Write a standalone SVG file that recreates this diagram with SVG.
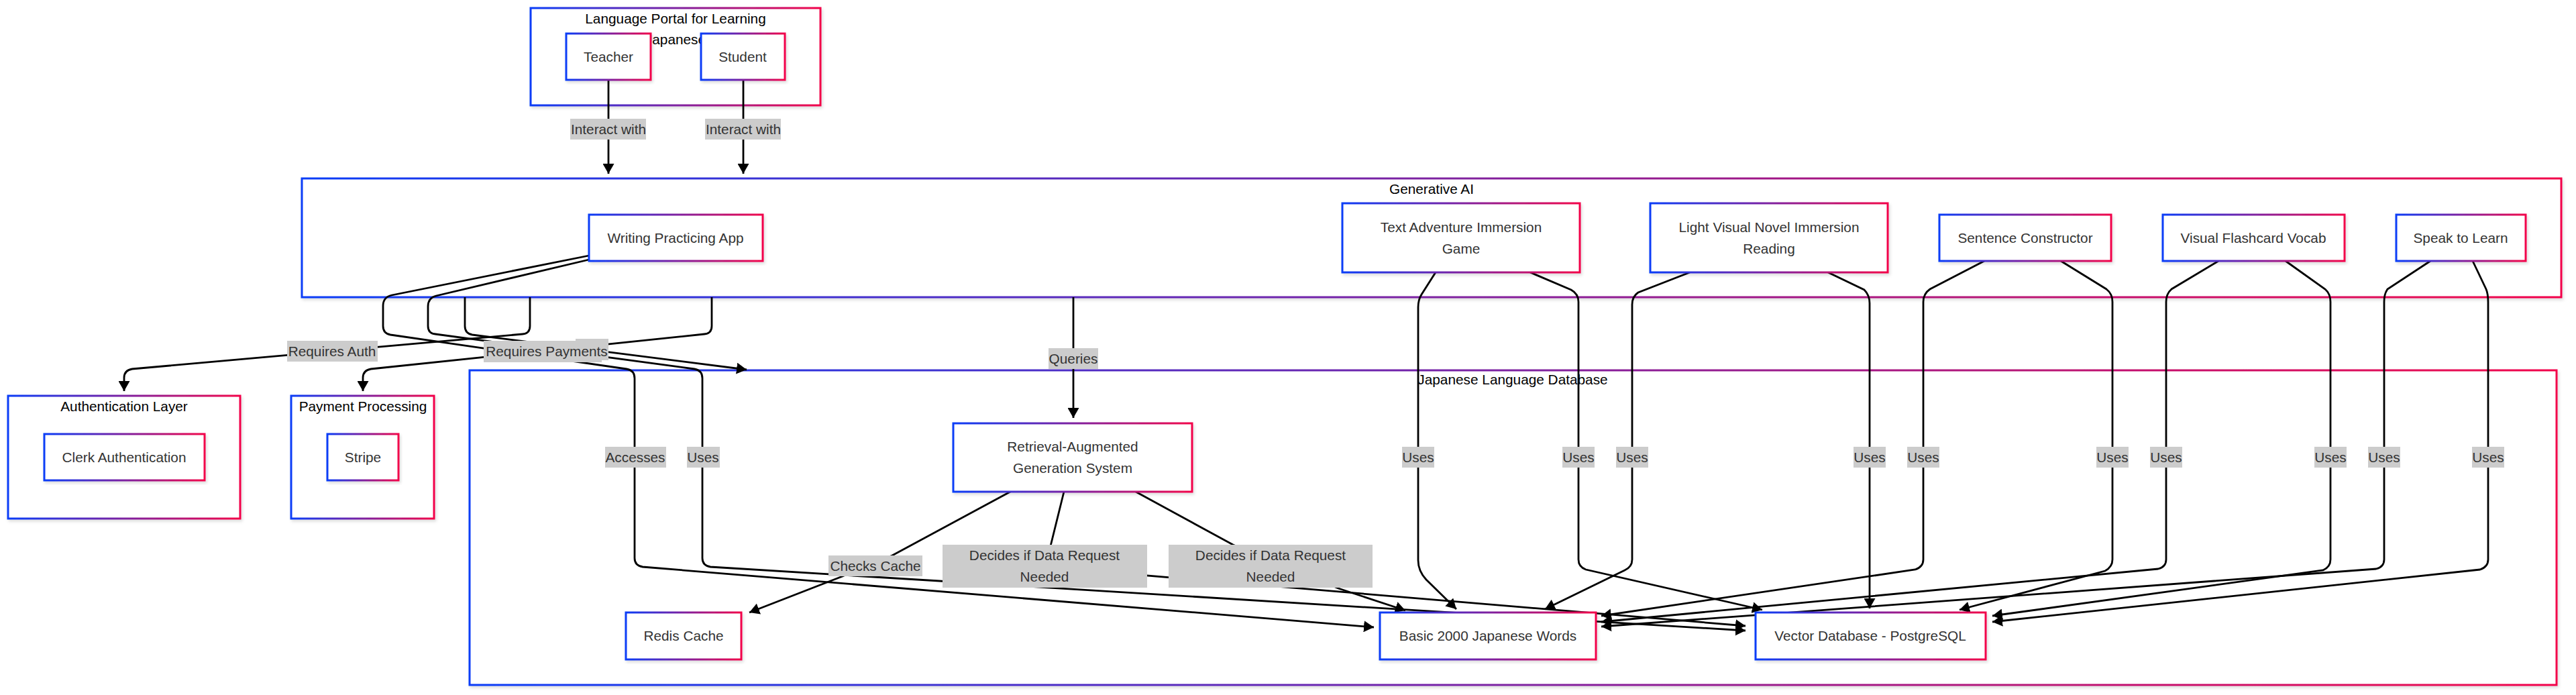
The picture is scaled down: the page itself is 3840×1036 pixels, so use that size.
<svg xmlns="http://www.w3.org/2000/svg" width="3840" height="1036" viewBox="0 0 3840 1036">
<defs>
<linearGradient id="grad" x1="0" y1="0" x2="1" y2="0">
<stop offset="0" stop-color="#0a3cf7"/>
<stop offset="0.5" stop-color="#7d21a1"/>
<stop offset="1" stop-color="#f2054a"/>
</linearGradient>
<filter id="sh" x="-5%" y="-5%" width="110%" height="115%">
<feDropShadow dx="2" dy="3" stdDeviation="2" flood-color="#000" flood-opacity="0.13"/>
</filter>
<marker id="arr" viewBox="0 0 10 10" refX="10" refY="5" markerUnits="userSpaceOnUse" markerWidth="15" markerHeight="17" preserveAspectRatio="none" orient="auto">
<path d="M0,0 L10,5 L0,10 z" fill="#000"/>
</marker>
</defs>
<style>
text{font-family:"Liberation Sans",Arial,Helvetica,sans-serif;font-size:20.8px;text-anchor:middle}
.cl{fill:#fff;stroke:url(#grad);stroke-width:3;filter:url(#sh)}
.ct{fill:#000}
.nd{fill:#fff;stroke:url(#grad);stroke-width:3;filter:url(#sh)}
.nt{fill:#333}
.e{fill:none;stroke:#000;stroke-width:2.8;marker-end:url(#arr)}
.lb{fill:#cccccc}
.lt{fill:#333}
</style>
<rect width="3840" height="1036" fill="#fff"/>

<g id="clusters">
<g id="cluster-portal">
<rect class="cl" x="791" y="12" width="432" height="145"/>
<text class="ct" x="1007" y="35">Language Portal for Learning</text>
<text class="ct" x="1007" y="66">Japanese</text>
</g>
<g id="cluster-genai">
<rect class="cl" x="450" y="266" width="3368" height="177"/>
<text class="ct" x="2134" y="289">Generative AI</text>
</g>
<g id="cluster-auth">
<rect class="cl" x="12" y="590" width="346" height="183"/>
<text class="ct" x="185" y="613">Authentication Layer</text>
</g>
<g id="cluster-payment">
<rect class="cl" x="434" y="590" width="213" height="183"/>
<text class="ct" x="541" y="613">Payment Processing</text>
</g>
<g id="cluster-db">
<rect class="cl" x="700" y="552" width="3111" height="469"/>
<text class="ct" x="2255" y="573">Japanese Language Database</text>
</g>
</g>

<g id="connectors">
<path class="e" d="M907,119 L907,259"/>
<path class="e" d="M1108,119 L1108,259"/>
<path class="e" d="M693,443 L693,486 Q693,497 704,499 L1113,551"/>
<path class="e" d="M790,443 L790,486 Q790,497 779,498 L197,550 Q185,552 185,563 L185,583"/>
<path class="e" d="M1061,443 L1061,486 Q1061,497 1050,498 L553,550 Q541,552 541,563 L541,583"/>
<path class="e" d="M1600,443 L1600,623"/>
<path class="e" d="M878,381 L584,440 Q571,443 571,456 L571,486 Q571,497 582,499 L934,550 Q946,552 946,564 L946,832 Q946,843 958,845 L2048,935"/>
<path class="e" d="M878,387 L650,441 Q638,444 638,457 L638,486 Q638,497 649,498 L1035,550 Q1047,552 1047,564 L1047,832 Q1047,843 1059,845 L2602,940"/>
<path class="e" d="M1506,733 L1330,828 L1256,859 L1117,913"/>
<path class="e" d="M1586,733 L1563,826 Q1559,845 1580,847 L2602,933"/>
<path class="e" d="M1693,733 L1838,812 L1995,877 L2095,910"/>
<path class="e" d="M2140,406 L2119,439 Q2114,447 2114,458 L2114,835 Q2114,851 2126,864 L2171,908"/>
<path class="e" d="M2281,406 L2342,432 Q2353,438 2353,450 L2353,834 Q2353,845 2364,849 L2627,909"/>
<path class="e" d="M2519,406 L2442,436 Q2433,442 2433,454 L2433,834 Q2433,845 2422,850 L2303,908"/>
<path class="e" d="M2725,406 L2779,432 Q2787,440 2787,452 L2787,907"/>
<path class="e" d="M2958,389 L2877,431 Q2867,438 2867,450 L2867,834 Q2867,845 2855,849 L2387,918"/>
<path class="e" d="M3072,389 L3140,431 Q3149,438 3149,450 L3149,834 Q3149,845 3138,851 L2921,909"/>
<path class="e" d="M3307,389 L3237,431 Q3229,438 3229,450 L3229,834 Q3229,845 3217,848 L2387,927"/>
<path class="e" d="M3407,389 L3466,431 Q3474,438 3474,450 L3474,834 Q3474,845 3463,850 L2970,918"/>
<path class="e" d="M3623,389 L3559,431 Q3554,438 3554,450 L3554,834 Q3554,845 3542,848 L2387,934"/>
<path class="e" d="M3686,389 L3706,431 Q3709,438 3709,450 L3709,834 Q3709,845 3697,849 L2970,927"/>
</g>

<g id="edge-labels">
<rect class="lb" x="850" y="177" width="113" height="31"/><text class="lt" x="907" y="200">Interact with</text>
<rect class="lb" x="1051" y="177" width="113" height="31"/><text class="lt" x="1108" y="200">Interact with</text>
<rect class="lb" x="428" y="508" width="135" height="31"/><text class="lt" x="495" y="531">Requires Auth</text>
<rect class="lb" x="721" y="508" width="176" height="32"/>
<rect class="lb" x="858" y="505" width="49" height="32"/>
<text class="lt" x="815" y="531">Requires Payments</text>
<rect class="lb" x="1563" y="519" width="74" height="31"/><text class="lt" x="1600" y="542">Queries</text>
<rect class="lb" x="902" y="666" width="91" height="31"/><text class="lt" x="947" y="689">Accesses</text>
<rect class="lb" x="1024" y="666" width="49" height="31"/><text class="lt" x="1048" y="689">Uses</text>
<rect class="lb" x="2090" y="666" width="48" height="31"/><text class="lt" x="2114" y="689">Uses</text>
<rect class="lb" x="2329" y="666" width="48" height="31"/><text class="lt" x="2353" y="689">Uses</text>
<rect class="lb" x="2409" y="666" width="48" height="31"/><text class="lt" x="2433" y="689">Uses</text>
<rect class="lb" x="2763" y="666" width="48" height="31"/><text class="lt" x="2787" y="689">Uses</text>
<rect class="lb" x="2843" y="666" width="48" height="31"/><text class="lt" x="2867" y="689">Uses</text>
<rect class="lb" x="3125" y="666" width="48" height="31"/><text class="lt" x="3149" y="689">Uses</text>
<rect class="lb" x="3205" y="666" width="48" height="31"/><text class="lt" x="3229" y="689">Uses</text>
<rect class="lb" x="3450" y="666" width="48" height="31"/><text class="lt" x="3474" y="689">Uses</text>
<rect class="lb" x="3530" y="666" width="48" height="31"/><text class="lt" x="3554" y="689">Uses</text>
<rect class="lb" x="3685" y="666" width="48" height="31"/><text class="lt" x="3709" y="689">Uses</text>
<rect class="lb" x="1235" y="828" width="140" height="31"/><text class="lt" x="1305" y="851">Checks Cache</text>
<rect class="lb" x="1405" y="812" width="305" height="64"/><text class="lt" x="1557" y="835">Decides if Data Request</text><text class="lt" x="1557" y="867">Needed</text>
<rect class="lb" x="1742" y="812" width="304" height="64"/><text class="lt" x="1894" y="835">Decides if Data Request</text><text class="lt" x="1894" y="867">Needed</text>
</g>

<g id="node-teacher"><rect class="nd" x="844" y="50" width="126" height="69"/><text class="nt" x="907" y="92">Teacher</text></g>
<g id="node-student"><rect class="nd" x="1045" y="50" width="125" height="69"/><text class="nt" x="1107" y="92">Student</text></g>
<g id="node-writing"><rect class="nd" x="878" y="320" width="259" height="69"/><text class="nt" x="1007" y="362">Writing Practicing App</text></g>
<g id="node-textadventure"><rect class="nd" x="2001" y="303" width="354" height="103"/><text class="nt" x="2178" y="346">Text Adventure Immersion</text><text class="nt" x="2178" y="378">Game</text></g>
<g id="node-lightnovel"><rect class="nd" x="2460" y="303" width="354" height="103"/><text class="nt" x="2637" y="346">Light Visual Novel Immersion</text><text class="nt" x="2637" y="378">Reading</text></g>
<g id="node-sentence"><rect class="nd" x="2891" y="320" width="256" height="69"/><text class="nt" x="3019" y="362">Sentence Constructor</text></g>
<g id="node-flashcard"><rect class="nd" x="3224" y="320" width="271" height="69"/><text class="nt" x="3359" y="362">Visual Flashcard Vocab</text></g>
<g id="node-speak"><rect class="nd" x="3572" y="320" width="193" height="69"/><text class="nt" x="3668" y="362">Speak to Learn</text></g>
<g id="node-clerk"><rect class="nd" x="66" y="647" width="239" height="69"/><text class="nt" x="185" y="689">Clerk Authentication</text></g>
<g id="node-stripe"><rect class="nd" x="488" y="647" width="106" height="69"/><text class="nt" x="541" y="689">Stripe</text></g>
<g id="node-rag"><rect class="nd" x="1421" y="631" width="356" height="102"/><text class="nt" x="1599" y="673">Retrieval-Augmented</text><text class="nt" x="1599" y="705">Generation System</text></g>
<g id="node-redis"><rect class="nd" x="933" y="913" width="172" height="70"/><text class="nt" x="1019" y="955">Redis Cache</text></g>
<g id="node-basic"><rect class="nd" x="2057" y="913" width="322" height="70"/><text class="nt" x="2218" y="955">Basic 2000 Japanese Words</text></g>
<g id="node-vector"><rect class="nd" x="2617" y="913" width="343" height="70"/><text class="nt" x="2788" y="955">Vector Database - PostgreSQL</text></g>
</svg>
